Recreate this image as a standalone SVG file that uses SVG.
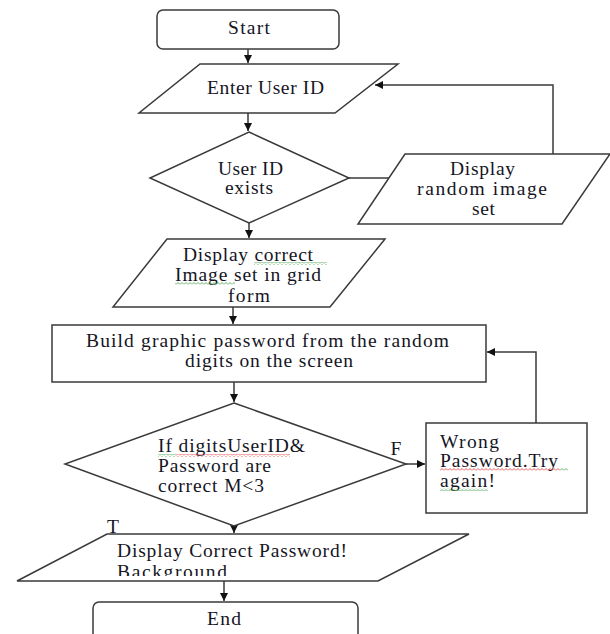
<svg xmlns="http://www.w3.org/2000/svg" width="610" height="634" viewBox="0 0 610 634">
<style>
.s{fill:#fff;stroke:#3a3a3a;stroke-width:1.5}
.c{fill:none;stroke:#3a3a3a;stroke-width:1.5}
text{font-family:"Liberation Serif","Times New Roman",serif;font-size:19.5px;fill:#15151f}
.m{text-anchor:middle}
</style>
<defs>
<marker id="ah" markerUnits="userSpaceOnUse" markerWidth="9" markerHeight="9" refX="8" refY="4.5" orient="auto">
<path d="M0,0.5 L8,4.5 L0,8.5 z" fill="#111"/>
</marker>
<pattern id="wr" width="4" height="3" patternUnits="userSpaceOnUse"><path d="M0,2.5 L2,0.5 L4,2.5" fill="none" stroke="#e03030" stroke-width="0.8"/></pattern>
<pattern id="wg" width="4" height="3" patternUnits="userSpaceOnUse"><path d="M0,2.5 L2,0.5 L4,2.5" fill="none" stroke="#3aa040" stroke-width="0.8"/></pattern>
<clipPath id="cp"><rect x="0" y="534" width="610" height="42"/></clipPath>
</defs>

<g id="connectors">
<path class="c" d="M248,49 V63" marker-end="url(#ah)"/>
<path class="c" d="M248,113 V131" marker-end="url(#ah)"/>
<path class="c" d="M349,178 H390"/>
<path class="c" d="M553,154 V85 H375" marker-end="url(#ah)"/>
<path class="c" d="M249,223 V238" marker-end="url(#ah)"/>
<path class="c" d="M233,307 V324" marker-end="url(#ah)"/>
<path class="c" d="M234,382 V402" marker-end="url(#ah)"/>
<path class="c" d="M406,464 H425" marker-end="url(#ah)"/>
<path class="c" d="M536,423 V352 H487" marker-end="url(#ah)"/>
<path class="c" d="M234,526 V533" marker-end="url(#ah)"/>
<path class="c" d="M224,581 V601" marker-end="url(#ah)"/>
<text x="396" y="455" class="m">F</text>
<text x="113" y="533" class="m">T</text>
</g>

<g id="start">
<rect class="s" x="157" y="10" width="182" height="39" rx="6"/>
<text x="228" y="34" textLength="42">Start</text>
</g>

<g id="enter-user-id">
<polygon class="s" points="200,64 398,64 335,113 139,113"/>
<text x="207" y="94" textLength="117">Enter User ID</text>
</g>

<g id="user-id-exists">
<polygon class="s" points="249,132 349,178 249,223 150,178"/>
<text x="218" y="175" textLength="65">User ID</text>
<text x="225" y="194" textLength="48">exists</text>
</g>

<g id="display-random">
<polygon class="s" points="405,154 610,154 562,224 358,224"/>
<text x="450" y="175" textLength="65">Display</text>
<text x="417" y="195" textLength="130">random image</text>
<text x="472" y="215" textLength="23">set</text>
</g>

<g id="display-correct">
<polygon class="s" points="167,239 385,239 330,307 113,307"/>
<text x="183" y="261" textLength="130">Display correct</text>
<text x="175" y="281" textLength="146">Image set in grid</text>
<text x="228" y="302" textLength="42">form</text>
<rect x="254" y="262" width="73" height="3" fill="url(#wg)"/>
<rect x="175" y="282" width="60" height="3" fill="url(#wg)"/>
</g>

<g id="build-password">
<rect class="s" x="52" y="325" width="434" height="57"/>
<text x="86" y="347" textLength="363">Build graphic password from the random</text>
<text x="185" y="367" textLength="168">digits on the screen</text>
</g>

<g id="check-password">
<polygon class="s" points="234,403 406,464 234,526 65,464"/>
<text x="158" y="452" textLength="147">If  digitsUserID&amp;</text>
<text x="158" y="472" textLength="113">Password are</text>
<text x="158" y="492" textLength="106">correct M&lt;3</text>
<rect x="158" y="454" width="18" height="3" fill="url(#wg)"/>
<rect x="176" y="454" width="114" height="3" fill="url(#wr)"/>
</g>

<g id="wrong-password">
<rect class="s" x="426" y="423" width="161" height="90"/>
<text x="440" y="448" textLength="59">Wrong</text>
<text x="440" y="467" textLength="118">Password.Try</text>
<text x="440" y="487" textLength="55">again!</text>
<rect x="440" y="468" width="120" height="3" fill="url(#wr)"/>
<rect x="560" y="468" width="8" height="3" fill="url(#wg)"/>
<rect x="440" y="488" width="48" height="3" fill="url(#wg)"/>
</g>

<g id="display-correct-password">
<polygon class="s" points="107,534 469,534 378,581 17,581"/>
<g clip-path="url(#cp)">
<text x="117" y="557" textLength="230">Display Correct Password!</text>
<text x="117" y="578" textLength="110">Background</text>
</g>
</g>

<g id="end">
<rect class="s" x="93" y="602" width="265" height="45" rx="6"/>
<text x="207" y="625" textLength="34">End</text>
</g>
</svg>
